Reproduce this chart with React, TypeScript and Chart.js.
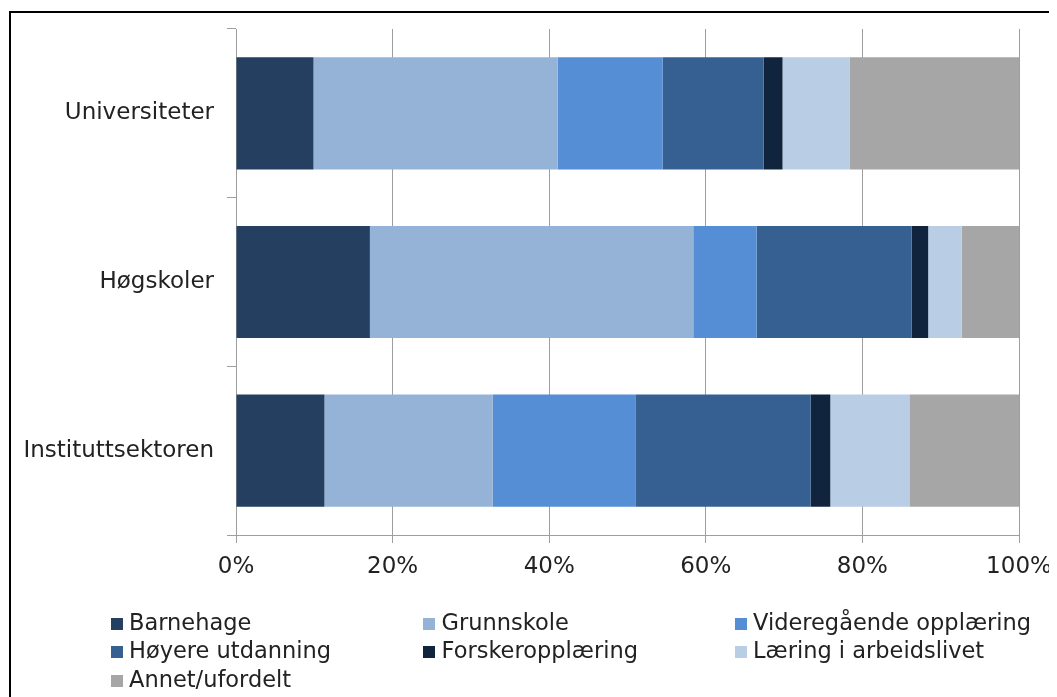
import React, { useEffect, useRef } from "react";
import { Chart, registerables } from "chart.js";

Chart.register(...registerables);

const categories = ["Universiteter", "Høgskoler", "Instituttsektoren"];
const seriesNames = [
  "Barnehage",
  "Grunnskole",
  "Videregående opplæring",
  "Høyere utdanning",
  "Forskeropplæring",
  "Læring i arbeidslivet",
  "Annet/ufordelt",
];
const barnehage = [9.9, 17.1, 11.3];
const grunnskole = [31.2, 41.3, 21.5];
const videregaende = [13.4, 8.1, 18.2];
const hoyere = [12.9, 19.8, 22.4];
const forsker = [2.4, 2.1, 2.5];
const laering = [8.6, 4.3, 10.1];
const annet = [21.6, 7.3, 14.0];
const xTicks = [0, 20, 40, 60, 80, 100];

const seriesValues = [barnehage, grunnskole, videregaende, hoyere, forsker, laering, annet];
const colors = ["#253f60", "#95b3d7", "#558ed5", "#366092", "#10243e", "#b9cde5", "#a6a6a6"];

const FONT = "'DejaVu Sans', Verdana, sans-serif";
const TEXT = "#222222";
const GRID = "#9e9e9e";

// legend grid: 3 columns
const legendCols = [102.5, 415, 726.5];
const legendRows = [622, 650.3, 678.7];

export default function App() {
  const ref = useRef<HTMLCanvasElement | null>(null);

  useEffect(() => {
    if (!ref.current) return;
    const chart = new Chart(ref.current, {
      type: "bar",
      data: {
        labels: categories,
        datasets: seriesNames.map((name, i) => ({
          label: name,
          data: seriesValues[i],
          backgroundColor: colors[i],
          borderWidth: 0,
          barPercentage: 0.665,
          categoryPercentage: 1,
        })),
      },
      options: {
        indexAxis: "y",
        animation: false,
        responsive: false,
        maintainAspectRatio: false,
        layout: { padding: { left: 0, right: 38, top: 21, bottom: 102 } },
        plugins: { legend: { display: false }, tooltip: { enabled: false } },
        scales: {
          x: {
            stacked: true,
            min: 0,
            max: 100,
            afterBuildTicks: (scale: any) => {
              scale.ticks = xTicks.map((v) => ({ value: v }));
            },
            afterFit: (scale: any) => {
              scale.height = 60;
              scale.paddingLeft = 0;
              scale.paddingRight = 0;
            },
            ticks: {
              callback: (v: any) => v + "%",
              font: { family: FONT, size: 23 },
              color: TEXT,
              padding: 10,
              maxRotation: 0,
            },
            grid: { color: GRID, lineWidth: 1, tickLength: 8, drawOnChartArea: true },
            border: { display: true, color: GRID, width: 1 },
          },
          y: {
            stacked: true,
            afterFit: (scale: any) => {
              scale.width = 228;
              scale.paddingTop = 0;
              scale.paddingBottom = 0;
            },
            ticks: {
              font: { family: FONT, size: 23 },
              color: TEXT,
              padding: 13,
            },
            grid: { color: GRID, lineWidth: 1, tickLength: 9, drawOnChartArea: false, offset: true },
            border: { display: true, color: GRID, width: 1 },
          },
        },
      },
    });
    return () => chart.destroy();
  }, []);

  return (
    <div style={{ position: "relative", width: 1049, height: 689, overflow: "hidden", background: "#fff" }}>
      <div
        style={{
          position: "absolute",
          left: 1,
          top: 3,
          width: 1100,
          height: 760,
          border: "2px solid #000",
          boxSizing: "border-box",
        }}
      />
      <canvas ref={ref} width={1049} height={689} style={{ position: "absolute", left: 0, top: 0 }} />
      {seriesNames.map((name, i) => {
        const col = i % 3;
        const row = Math.floor(i / 3);
        const x = legendCols[col];
        const base = legendRows[row];
        return (
          <React.Fragment key={name}>
            <div
              style={{
                position: "absolute",
                left: x,
                top: base - 12,
                width: 12,
                height: 12,
                background: colors[i],
              }}
            />
            <div
              style={{
                position: "absolute",
                left: x + 18.5,
                top: base - 19,
                fontFamily: FONT,
                fontSize: 22.5,
                lineHeight: "22.5px",
                color: TEXT,
                whiteSpace: "nowrap",
              }}
            >
              {name}
            </div>
          </React.Fragment>
        );
      })}
    </div>
  );
}
